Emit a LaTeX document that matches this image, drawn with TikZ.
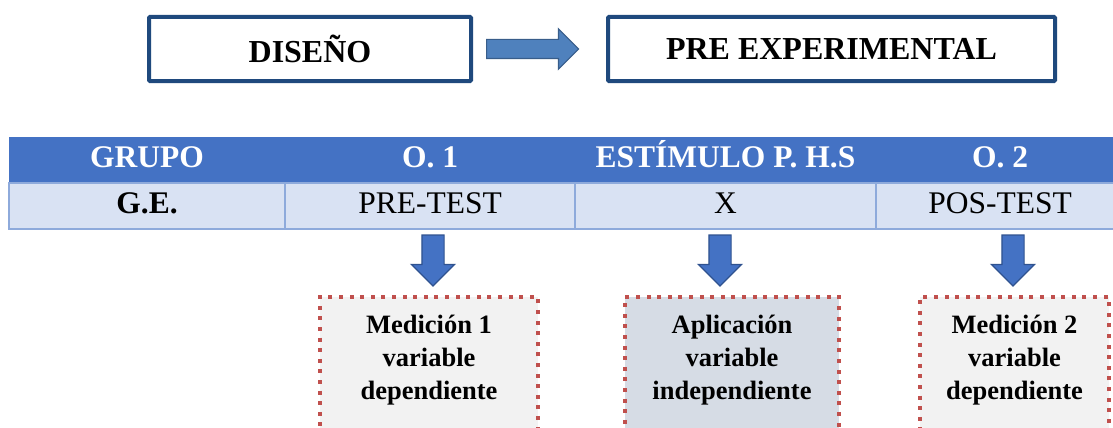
\documentclass[tikz,border=0pt]{standalone}
\usepackage{fontspec}
\setmainfont{Liberation Serif}
\usetikzlibrary{positioning,shapes.arrows}
\definecolor{navyline}{RGB}{31,73,125}
\definecolor{headblue}{RGB}{68,114,196}
\definecolor{rowblue}{RGB}{217,226,243}
\definecolor{gridblue}{RGB}{142,170,219}
\definecolor{pointblue}{RGB}{79,129,189}
\definecolor{pointline}{RGB}{56,93,138}
\definecolor{downline}{RGB}{47,82,143}
\definecolor{dotred}{RGB}{192,80,77}
\definecolor{boxgray}{RGB}{242,242,242}
\definecolor{boxslate}{RGB}{214,220,229}
\begin{document}
\begin{tikzpicture}[x=1pt,y=-1pt]
  \tikzstyle{title}=[draw=navyline,line width=4pt,rounded corners=1pt,fill=white,minimum height=64pt,inner sep=0pt,font=\fontsize{32}{38}\selectfont\bfseries]
  \tikzstyle{head}=[fill=headblue,text=white,minimum height=46pt,text height=22pt,text depth=7pt,inner sep=0pt,outer sep=0pt,font=\fontsize{31.5}{36}\selectfont\bfseries]
  \tikzstyle{cell}=[fill=rowblue,draw=gridblue,line width=1.5pt,minimum height=46pt,text height=22pt,text depth=7pt,inner sep=0pt,outer sep=0pt,font=\fontsize{31.5}{36}\selectfont]
  \tikzstyle{measure}=[draw=dotred,line width=4pt,dash pattern=on 4pt off 6.6pt,minimum height=170pt,anchor=north,inner sep=0pt]
  \tikzstyle{boxtext}=[align=center,inner sep=0pt,font=\fontsize{26.5}{33}\selectfont\bfseries]
  \tikzstyle{fatright}=[single arrow,fill=pointblue,draw=pointline,line width=1.2pt,minimum height=92pt,minimum width=39pt,single arrow head extend=10.5pt,inner sep=9pt]
  \tikzstyle{fatdown}=[single arrow,fill=headblue,draw=downline,line width=1.2pt,shape border rotate=270,minimum height=51pt,minimum width=42pt,single arrow head extend=10.5pt,inner sep=10.5pt]
  \clip (0,0) rectangle (1113,428);

  % design type
  \node[title,minimum width=322pt] (design) at (310,49) {DISEÑO};
  \node[title,minimum width=447pt] (plan) at (831.5,49) {PRE EXPERIMENTAL};
  \node[fatright,right=13pt of design] (pointer) {};

  % table
  \node[head,minimum width=276pt] (h1) at (147,160) {GRUPO};
  \node[head,minimum width=290pt,right=0pt of h1] (h2) {O. 1};
  \node[head,minimum width=301pt,right=0pt of h2] (h3) {ESTÍMULO P. H.S};
  \node[head,minimum width=248pt,right=0pt of h3] (h4) {O. 2};
  \node[cell,minimum width=276pt,below=0pt of h1,font=\fontsize{31.5}{36}\selectfont\bfseries] (r1) {G.E.};
  \node[cell,minimum width=290pt,right=0pt of r1] (r2) {PRE-TEST};
  \node[cell,minimum width=301pt,right=0pt of r2] (r3) {X};
  \node[cell,minimum width=248pt,right=0pt of r3] (r4) {POS-TEST};

  % measurements
  \node[measure,fill=boxgray,minimum width=218pt] (m1) at (429,295) {};
  \node[measure,fill=boxslate,minimum width=214pt] (m2) at (732,295) {};
  \node[measure,fill=boxgray,minimum width=189pt] (m3) at (1014.5,295) {};
  \node[boxtext] (t1) at ([yshift=-65pt]m1.north) {Medición 1\\variable\\dependiente};
  \node[boxtext] (t2) at ([yshift=-65pt]m2.north) {Aplicación\\variable\\independiente};
  \node[boxtext] (t3) at ([yshift=-65pt]m3.north) {Medición 2\\variable\\dependiente};

  \node[fatdown] (d1) at (433,255) {};
  \node[fatdown] (d2) at (720,255) {};
  \node[fatdown] (d3) at (1013,255) {};
\end{tikzpicture}
\end{document}
